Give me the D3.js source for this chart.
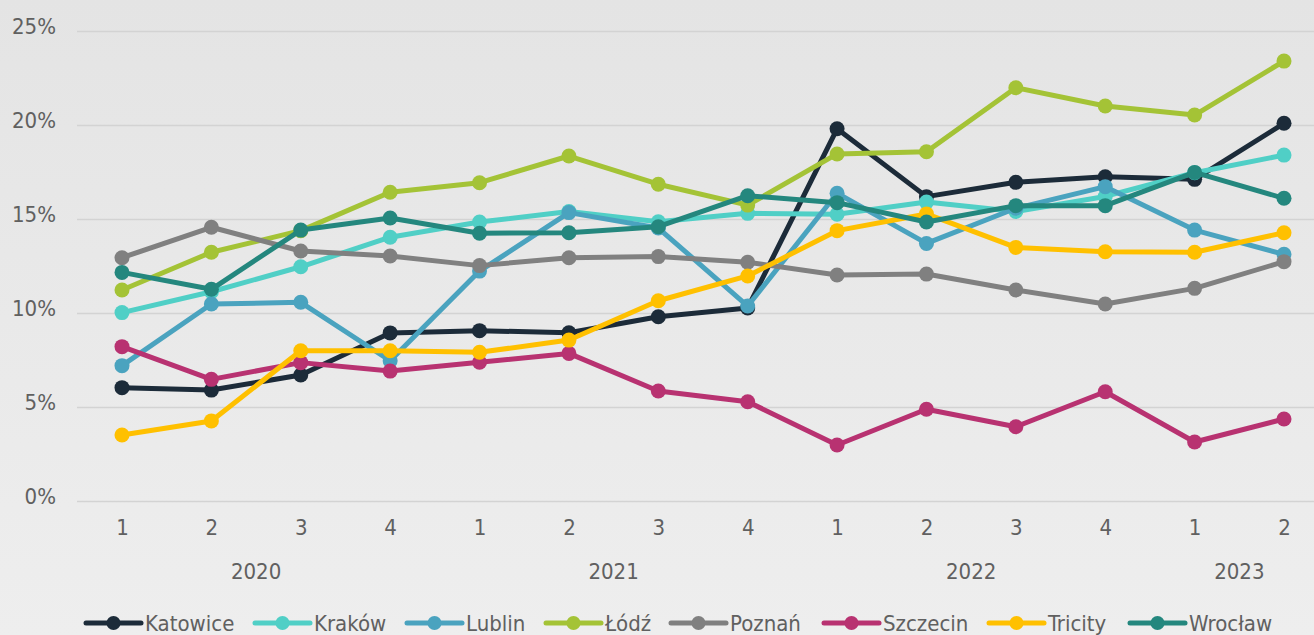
<!DOCTYPE html>
<html><head><meta charset="utf-8">
<script src="https://cdn.jsdelivr.net/npm/d3@7"></script>
<style>
html,body{margin:0;padding:0;background:#e8e8e8;}
svg{display:block;}
text{font-family:"Liberation Sans Narrow","DejaVu Sans Condensed","Liberation Sans",sans-serif;fill:#606060;}
</style></head>
<body>
<svg id="chart" width="1314" height="635"></svg>
<script>
const years = ["2020","2020","2020","2020","2021","2021","2021","2021","2022","2022","2022","2022","2023","2023"];
const quarters = ["1","2","3","4","1","2","3","4","1","2","3","4","1","2"];
const yTicks = [0,5,10,15,20,25];
const seriesNames = ["Katowice","Kraków","Lublin","Łódź","Poznań","Szczecin","Tricity","Wrocław"];
const seriesColors = ["#1c2b39","#50cfc6","#4aa3bf","#a4c336","#808080","#b83271","#ffc000","#24877e"];
const katowice = [6.03,5.90,6.70,8.94,9.06,8.95,9.80,10.27,19.80,16.19,16.95,17.25,17.11,20.09];
const krakow   = [10.02,11.13,12.46,14.03,14.84,15.40,14.85,15.30,15.25,15.90,15.40,16.20,17.46,18.40];
const lublin   = [7.20,10.48,10.57,7.46,12.23,15.34,14.52,10.37,16.37,13.70,15.57,16.72,14.41,13.12];
const lodz     = [11.22,13.23,14.38,16.42,16.93,18.35,16.85,15.74,18.46,18.58,21.98,21.01,20.53,23.40];
const poznan   = [12.94,14.56,13.30,13.03,12.52,12.94,13.00,12.70,12.02,12.07,11.22,10.48,11.31,12.73];
const szczecin = [8.21,6.47,7.36,6.91,7.38,7.85,5.85,5.28,2.98,4.88,3.95,5.81,3.14,4.36];
const tricity  = [3.51,4.26,7.99,7.99,7.91,8.56,10.65,11.97,14.38,15.27,13.49,13.26,13.23,14.27];
const wroclaw  = [12.16,11.26,14.41,15.05,14.24,14.27,14.59,16.24,15.87,14.84,15.71,15.71,17.48,16.10];
const seriesValues = [katowice,krakow,lublin,lodz,poznan,szczecin,tricity,wroclaw];

const svg = d3.select("#chart");
const W = 1314, H = 635;
const FS = 22;
const defs = svg.append("defs");
const grad = defs.append("linearGradient").attr("id","bg").attr("x1",0).attr("x2",0).attr("y1",0).attr("y2",1);
grad.append("stop").attr("offset","0%").attr("stop-color","#e4e4e4");
grad.append("stop").attr("offset","100%").attr("stop-color","#eeeeee");
svg.append("rect").attr("width",W).attr("height",H).attr("fill","url(#bg)");

const keys = years.map((y,i)=>y+"-"+quarters[i]+"-"+i);
const x = d3.scalePoint().domain(keys).range([122,1284]);
const y = d3.scaleLinear().domain([0,25]).range([501,31]);
const gridLeft = 77;

// y axis + grid
const yAxis = svg.append("g").attr("transform",`translate(${gridLeft},0)`)
  .call(d3.axisLeft(y).tickValues(yTicks).tickSize(-(W-gridLeft)).tickPadding(21).tickFormat(d=>d+"%"));
yAxis.select(".domain").remove();
yAxis.selectAll(".tick line").attr("stroke","#d3d3d3").attr("stroke-width",1.6);
yAxis.selectAll(".tick text").attr("font-size",FS).attr("fill","#606060").attr("dy","0.1em");

// x axis quarters
const xAxis = svg.append("g").attr("transform",`translate(0,501)`)
  .call(d3.axisBottom(x).tickSize(0).tickPadding(18).tickFormat((d,i)=>quarters[i]));
xAxis.select(".domain").remove();
xAxis.selectAll(".tick text").attr("font-size",FS).attr("fill","#606060");

// year labels
const yearGroups = d3.groups(keys.map((k,i)=>({k,year:years[i]})), d=>d.year);
svg.append("g").selectAll("text").data(yearGroups).join("text")
  .attr("x",d=>(x(d[1][0].k)+x(d[1][d[1].length-1].k))/2)
  .attr("y",579)
  .attr("text-anchor","middle").attr("font-size",FS).text(d=>d[0]);

// lines
const line = d3.line().x((d,i)=>x(keys[i])).y(d=>y(d));
const g = svg.append("g");
seriesValues.forEach((vals,si)=>{
  const c = seriesColors[si];
  const sg = g.append("g");
  sg.append("path").attr("d",line(vals)).attr("fill","none").attr("stroke",c)
    .attr("stroke-width",5).attr("stroke-linejoin","round");
  sg.selectAll("circle").data(vals).join("circle")
    .attr("cx",(d,i)=>x(keys[i])).attr("cy",d=>y(d)).attr("r",7.5).attr("fill",c);
});

// legend
const legendX = [86,255,407,546,671,824,989,1130];
const lg = svg.append("g");
seriesNames.forEach((n,i)=>{
  const x0 = legendX[i], yy = 623;
  lg.append("line").attr("x1",x0).attr("x2",x0+55).attr("y1",yy).attr("y2",yy)
    .attr("stroke",seriesColors[i]).attr("stroke-width",5).attr("stroke-linecap","round");
  lg.append("circle").attr("cx",x0+27.5).attr("cy",yy).attr("r",7).attr("fill",seriesColors[i]);
  lg.append("text").attr("x",x0+59).attr("y",yy+8).attr("font-size",FS).text(n);
});
</script>
</body></html>
